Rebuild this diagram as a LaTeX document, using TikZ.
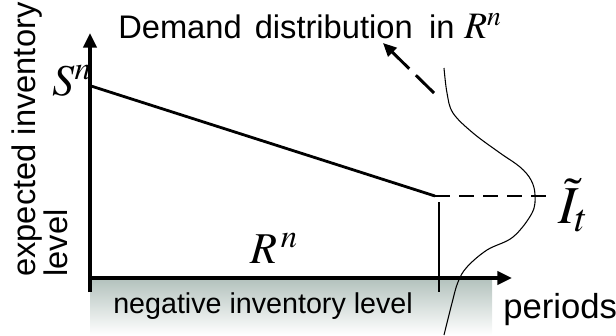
\documentclass[tikz,border=0pt]{standalone}
\usepackage{mathptmx}
\usepackage{fontspec}
\setmainfont{Liberation Sans}
\usetikzlibrary{arrows.meta}
\definecolor{shadegray}{RGB}{178,193,188}

\begin{document}
\begin{tikzpicture}[
    x=0.75pt, y=-0.75pt,
    axis/.style={line width=2.5pt, -{Triangle[length=11pt, width=10pt]}},
    level/.style={line width=2.1pt},
    pointer/.style={line width=2.2pt, dash pattern=on 19pt off 7pt, -{Triangle[length=10pt, width=9pt]}},
    density/.style={line width=0.8pt},
    lbl/.style={inner sep=0pt, anchor=base west},
    mathlbl/.style={lbl, font=\fontsize{33}{36}\selectfont}
  ]
    \useasboundingbox (0,0) rectangle (616,335);
    \shade[top color=shadegray, bottom color=white] (90,278) rectangle (492,335);
    \node[lbl, font=\fontsize{21.5}{24}\selectfont] (neg) at (113,313) {negative inventory level};
    \coordinate (origin) at (89,278);
    \coordinate (xtip) at (512,278);
    \coordinate (ybot) at (90,292);
    \coordinate (ytip) at (90,33);
    \draw[axis] (origin) -- (xtip);
    \draw[axis] (ybot) -- (ytip);
    \node[lbl, font=\fontsize{26}{28}\selectfont] (periods) at (503,318) {periods};
    \node[inner sep=0pt, rotate=90, anchor=north west, align=left, font=\fontsize{24.5}{18.8}\selectfont] (ylabel) at (12,277) {expected inventory\\level};
    \coordinate (stop) at (91,86);
    \coordinate (send) at (435,196);
    \coordinate (dend) at (547,196);
    \coordinate (vtop) at (439,202);
    \coordinate (vbot) at (439,292);
    \draw[level] (stop) -- (send);
    \draw[level, dash pattern=on 11pt off 7pt] (send) -- (dend);
    \draw[level] (vtop) -- (vbot);
    \node[mathlbl] (sn) at (52,95) {$S^{n}$};
    \node[mathlbl] (rn) at (250,263) {$R^{\,n}$};
    \node[lbl, font=\fontsize{40}{44}\selectfont] (it) at (558,223) {$\tilde{I}_t$};
    \draw[density] plot[smooth, tension=0.6] coordinates {(444,68) (447,93) (453,113) (473,133) (500,153) (520,167) (531,180) (535,195) (532,213) (513,237) (487,250) (467,267) (458,282) (452,303) (444,335)};
    \node[lbl, font=\fontsize{24.5}{28}\selectfont] (demand) at (118,39) {Demand\hspace{0.4em}distribution\hspace{0.5em}in\hspace{0.3em}{\fontsize{28}{30}\selectfont$R^{n}$}};
    \coordinate (tail) at (434,93);
    \coordinate (tip) at (383,43);
    \draw[pointer] (tail) -- (tip);
\end{tikzpicture}
\end{document}
